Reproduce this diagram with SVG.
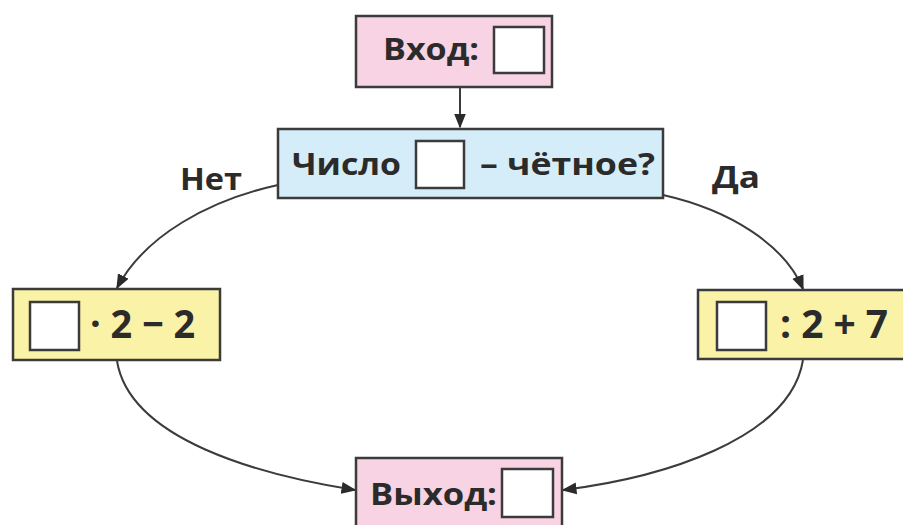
<svg xmlns="http://www.w3.org/2000/svg" width="903" height="525" viewBox="0 0 903 525">
<style>
.box{stroke:#3b3b3b;stroke-width:2.5}
.pink{fill:#f8d3e3}
.blue{fill:#d5edf8}
.yellow{fill:#faf2a6}
.sq{fill:#ffffff;stroke:#3b3b3b;stroke-width:2.5}
.t{font-family:"Open Sans","Liberation Sans",sans-serif;font-weight:bold;font-size:31px;fill:#2b2b2b}
.f{font-size:39px}
.c{fill:none;stroke:#3b3b3b;stroke-width:2}
</style>
<defs>
<marker id="ahb" viewBox="0 0 10 10" refX="9" refY="5" markerWidth="15" markerHeight="15" markerUnits="userSpaceOnUse" orient="auto">
<path d="M0,1 L10,5 L0,9 z" fill="#2b2b2b"/>
</marker>
</defs>
<rect width="903" height="525" fill="#ffffff"/>
<g id="connectors">
<path class="c" d="M460,88 L460,127" marker-end="url(#ahb)"/>
<path class="c" d="M278,185 C210,200 145,235 117,288" marker-end="url(#ahb)"/>
<path class="c" d="M663,195 C730,210 785,245 803,289" marker-end="url(#ahb)"/>
<path class="c" d="M117,361 C130,440 260,475 355,490" marker-end="url(#ahb)"/>
<path class="c" d="M803,360 C790,440 660,478 563,490" marker-end="url(#ahb)"/>
</g>
<g id="input">
<rect class="box pink" x="356" y="16" width="196" height="71"/>
<text class="t" x="383" y="60" textLength="96" lengthAdjust="spacingAndGlyphs">Вход:</text>
<rect class="sq" x="494" y="27" width="50" height="46"/>
</g>
<g id="check">
<rect class="box blue" x="278" y="129" width="385" height="69"/>
<text class="t" x="292" y="175" textLength="109" lengthAdjust="spacingAndGlyphs">Число</text>
<rect class="sq" x="416" y="141" width="48" height="47"/>
<text class="t" x="480" y="175" textLength="175" lengthAdjust="spacingAndGlyphs">– чётное?</text>
</g>
<g id="labels">
<text class="t" x="180" y="190" textLength="62" lengthAdjust="spacingAndGlyphs">Нет</text>
<text class="t" x="712" y="188" textLength="48" lengthAdjust="spacingAndGlyphs">Да</text>
</g>
<g id="odd">
<rect class="box yellow" x="13" y="289" width="207" height="71"/>
<rect class="sq" x="30" y="302" width="49" height="48"/>
<text class="t f" x="90" y="338" textLength="105" lengthAdjust="spacingAndGlyphs">· 2 − 2</text>
</g>
<g id="even">
<rect class="box yellow" x="698" y="290" width="215" height="69"/>
<rect class="sq" x="717" y="302" width="49" height="48"/>
<text class="t f" x="780" y="338" textLength="108" lengthAdjust="spacingAndGlyphs">: 2 + 7</text>
</g>
<g id="output">
<rect class="box pink" x="356" y="458" width="206" height="72"/>
<text class="t" x="370" y="505" textLength="127" lengthAdjust="spacingAndGlyphs">Выход:</text>
<rect class="sq" x="502" y="469" width="51" height="48"/>
</g>
</svg>
